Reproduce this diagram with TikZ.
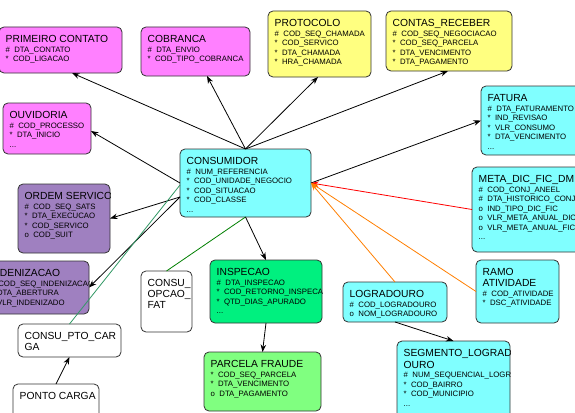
\documentclass[tikz,border=0pt]{standalone}
\usepackage{fontspec}
\setmainfont{Liberation Sans}
\usetikzlibrary{arrows.meta}
\definecolor{cmag}{HTML}{FF80FF}
\definecolor{cyel}{HTML}{FFFF80}
\definecolor{ccya}{HTML}{80FFFF}
\definecolor{cpur}{HTML}{9F80C0}
\definecolor{cgrn}{HTML}{00F07F}
\definecolor{clgr}{HTML}{80FF80}
\definecolor{bordc}{HTML}{333333}
\definecolor{corange}{HTML}{FF7F00}
\definecolor{cseag}{HTML}{339966}
\definecolor{cdgrn}{HTML}{008000}
\newcommand\ftitle{\fontsize{10.3}{11}\selectfont}
\newcommand\fattr{\fontsize{7.8}{9.5}\selectfont}
\tikzset{
  ent/.style={rectangle, rounded corners=5pt, inner sep=0pt, outer sep=0pt, anchor=north west},
  txt/.style={anchor=north west, inner sep=0pt, align=left, font=\fattr},
  entb/.style={draw=bordc, line width=0.8pt, rounded corners=5pt},
  arr/.style={-{Stealth[length=7.5pt,width=5.5pt]}, line width=0.8pt},
  plain/.style={line width=0.8pt}
}
\newcommand\ebox[8]{%
  \node[ent, fill=#6, minimum width=#4pt, minimum height=#5pt] (#1) at (#2,#3) {};
  \begin{scope}
    \clip[rounded corners=5pt] (#1.south west) rectangle (#1.north east);
    \node[txt,#7] at ([xshift=6.5pt,yshift=-8.5pt]#1.north west) {#8};
  \end{scope}
  \draw[entb] (#1.south west) rectangle (#1.north east);
}
\begin{document}
\begin{tikzpicture}[x=1pt,y=-1pt]
\clip (0,0) rectangle (575,412);
\fill[white] (0,0) rectangle (575,412);

\ebox{pc}{-1}{27}{123}{46}{cmag}{}{{\ftitle PRIMEIRO CONTATO}\\ \#\ \ DTA\_CONTATO\\ *\ \ COD\_LIGACAO}
\ebox{cob}{141}{27}{109}{49}{cmag}{}{{\ftitle COBRANCA}\\ \#\ \ DTA\_ENVIO\\ *\ \ COD\_TIPO\_COBRANCA}
\ebox{prot}{268}{11}{103}{66}{cyel}{}{{\ftitle PROTOCOLO}\\ \#\ \ COD\_SEQ\_CHAMADA\\ *\ \ COD\_SERVICO\\ *\ \ DTA\_CHAMADA\\ *\ \ HRA\_CHAMADA}
\ebox{crec}{386}{11}{126}{60}{cyel}{}{{\ftitle CONTAS\_RECEBER}\\ \#\ \ COD\_SEQ\_NEGOCIACAO\\ *\ \ COD\_SEQ\_PARCELA\\ *\ \ DTA\_VENCIMENTO\\ *\ \ DTA\_PAGAMENTO}
\ebox{fat}{481}{86}{110}{69}{ccya}{}{{\ftitle FATURA}\\ \#\ \ DTA\_FATURAMENTO\\ *\ \ IND\_REVISAO\\ *\ \ VLR\_CONSUMO\\ *\ \ DTA\_VENCIMENTO\\ ...}
\ebox{ouv}{3}{103}{88}{51}{cmag}{}{{\ftitle OUVIDORIA}\\ \#\ \ COD\_PROCESSO\\ *\ \ DTA\_INICIO\\ ...}
\ebox{cons}{180}{149}{131}{68}{ccya}{}{{\ftitle CONSUMIDOR}\\ \#\ \ NUM\_REFERENCIA\\ *\ \ COD\_UNIDADE\_NEGOCIO\\ *\ \ COD\_SITUACAO\\ *\ \ COD\_CLASSE\\ ...}
\ebox{ord}{18}{184}{92}{69}{cpur}{}{{\ftitle ORDEM SERVICO}\\ \#\ \ COD\_SEQ\_SATS\\ *\ \ DTA\_EXECUCAO\\ *\ \ COD\_SERVICO\\ o\ \ COD\_SUIT}
\ebox{ind}{-17}{261}{106}{53}{cpur}{}{{\ftitle INDENIZACAO}\\ \#\ \ COD\_SEQ\_INDENIZACAO\\ *\ \ DTA\_ABERTURA\\ *\ \ VLR\_INDENIZADO}
\ebox{meta}{472}{167}{120}{85}{ccya}{}{{\ftitle META\_DIC\_FIC\_DM}\\ \#\ \ COD\_CONJ\_ANEEL\\ \#\ \ DTA\_HISTORICO\_CONJ\\ o\ \ IND\_TIPO\_DIC\_FIC\\ o\ \ VLR\_META\_ANUAL\_DIC\\ o\ \ VLR\_META\_ANUAL\_FIC\\ ...}
\ebox{ramo}{476}{260}{83}{63}{ccya}{}{{\ftitle RAMO}\\[1.2pt]{\ftitle ATIVIDADE}\\ \#\ \ COD\_ATIVIDADE\\ *\ \ DSC\_ATIVIDADE}
\ebox{log}{343}{282}{104}{40}{ccya}{}{{\ftitle LOGRADOURO}\\ \#\ \ COD\_LOGRADOURO\\ o\ \ NOM\_LOGRADOURO}
\ebox{seg}{397}{341}{113}{80}{ccya}{}{{\ftitle SEGMENTO\_LOGRADOURO}\\[2pt]{\ftitle OURO}\\ \#\ \ NUM\_SEQUENCIAL\_LOGRADOURO\\ *\ \ COD\_BAIRRO\\ *\ \ COD\_MUNICIPIO\\ ...}
\ebox{insp}{210}{260}{112}{63}{cgrn}{}{{\ftitle INSPECAO}\\ \#\ \ DTA\_INSPECAO\\ *\ \ COD\_RETORNO\_INSPECAO\\ *\ \ QTD\_DIAS\_APURADO\\ ...}
\ebox{parc}{204}{352}{117}{59}{clgr}{}{{\ftitle PARCELA FRAUDE}\\ *\ \ COD\_SEQ\_PARCELA\\ *\ \ DTA\_VENCIMENTO\\ o\ \ DTA\_PAGAMENTO}
\ebox{opc}{141}{271}{51}{61}{white}{font=\ftitle}{CONSU\_\\OPCAO\_\\FAT}
\ebox{cpc}{18}{324}{103}{33}{white}{font=\ftitle}{CONSU\_PTO\_CAR\\GA}
\ebox{ponto}{13}{384}{86}{40}{white}{font=\ftitle}{PONTO CARGA}

% connectors
\draw[arr] (cons.north) -- ([xshift=73pt]pc.south west);
\draw[arr] (cons.north) -- ([xshift=66pt]cob.south west);
\draw[arr] (cons.north) -- ([xshift=50pt]prot.south west);
\draw[arr] (cons.north) -- ([xshift=62pt]crec.south west);
\draw[arr] (cons.east) -- (fat.west);
\draw[arr] (cons.west) -- ([yshift=-2.5pt]ouv.east);
\draw[arr] ([yshift=-14pt]cons.west) -- (ord.east);
\draw[arr] ([yshift=-14pt]cons.west) -- (ind.east);
\draw[plain, cseag] ([yshift=-2pt]cons.west) -- (cpc.north);
\draw[plain, cdgrn] (cons.south) -- (opc.north);
\draw[arr] (cons.south) -- (insp.north);
\draw[arr] (insp.south) -- (parc.north);
\draw[arr] (log.south) -- (seg.north);
\draw[arr] (ponto.north) -- (cpc.south);
\draw[arr, red] (meta.west) -- (cons.east);
\draw[arr, corange] (log.north) -- (cons.east);
\draw[arr, corange] (ramo.west) -- (cons.east);
\end{tikzpicture}
\end{document}
